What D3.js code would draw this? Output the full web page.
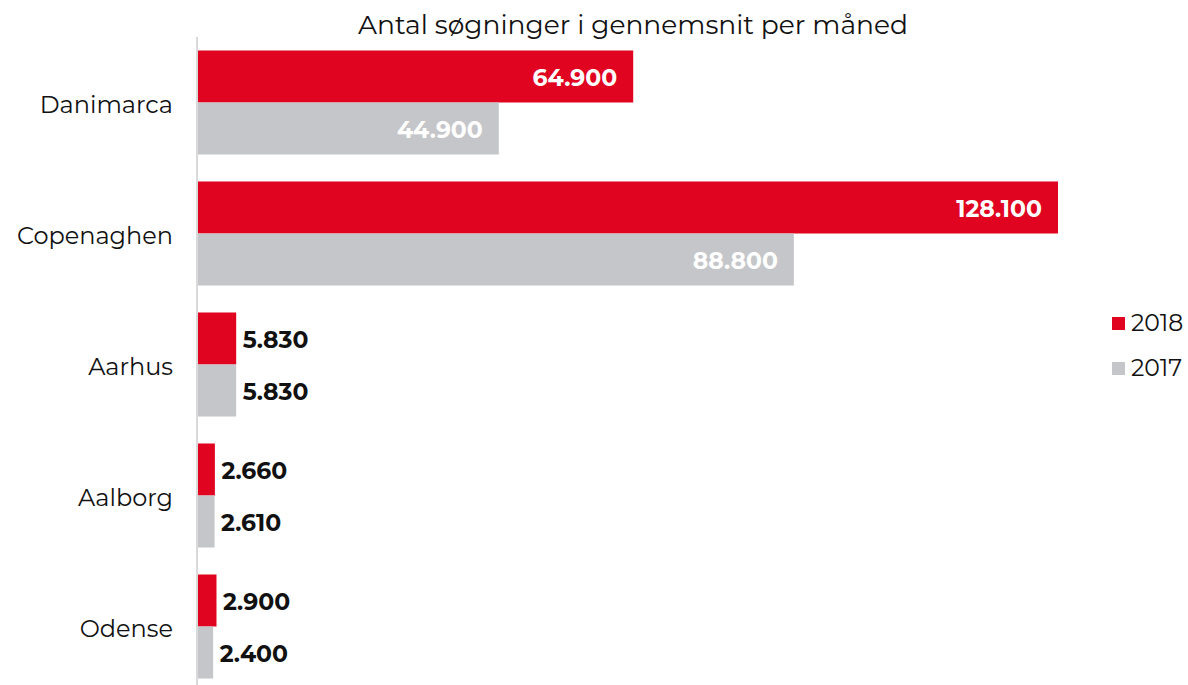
<!DOCTYPE html>
<html><head><meta charset="utf-8">
<script src="https://cdn.jsdelivr.net/npm/d3@7"></script>
<style>body{margin:0;background:#fff}svg{display:block}</style>
</head><body>
<svg id="c" width="1188" height="685"></svg>
<script>
const title = "Antal søgninger i gennemsnit per måned";
const categories = ["Danimarca", "Copenaghen", "Aarhus", "Aalborg", "Odense"];
const seriesNames = ["2018", "2017"];
const values2018 = [64900, 128100, 5830, 2660, 2900];
const values2017 = [44900, 88800, 5830, 2610, 2400];
const colors = ["#E00421", "#C5C6C9"];

const FONT = "Montserrat, 'DejaVu Sans', sans-serif";
const svg = d3.select("#c");
const series = [values2018, values2017];
const fmt = v => d3.format(",")(v).replace(/,/g, ".");

const x = d3.scaleLinear().domain([0, 128100]).range([197, 1058]);
const y = d3.scaleBand().domain(categories).range([37, 692]).paddingInner(0.206).paddingOuter(0.103);
const y1 = d3.scaleBand().domain(seriesNames).range([0, y.bandwidth()]);

svg.append("text").attr("x", 633).attr("y", 34).attr("text-anchor", "middle")
  .attr("font-family", FONT).attr("font-size", 26.5).attr("fill", "#111").text(title);

const g = svg.append("g");
categories.forEach((c, i) => {
  seriesNames.forEach((s, j) => {
    const v = series[j][i];
    const by = y(c) + y1(s);
    g.append("rect").attr("x", x(0)).attr("y", by).attr("width", x(v) - x(0)).attr("height", y1.bandwidth())
      .attr("fill", colors[j]);
    const inside = v > 20000;
    g.append("text")
      .attr("x", inside ? x(v) - 16 : Math.max(x(v) + 6.5, x(0) + 20))
      .attr("y", by + y1.bandwidth() / 2 + 1)
      .attr("dy", "0.36em")
      .attr("text-anchor", inside ? "end" : "start")
      .attr("font-family", FONT).attr("font-weight", "bold").attr("font-size", 23.5)
      .attr("fill", inside ? "#fff" : "#111")
      .text(fmt(v));
  });
});

const yAxis = d3.axisLeft(y).tickSize(0).tickPadding(24);
const ag = svg.append("g").attr("transform", `translate(${x(0)},0)`).call(yAxis);
ag.select(".domain").attr("stroke", "#d9d9d9").attr("stroke-width", 2).attr("d", `M0,37V692`);
ag.selectAll("text").attr("font-family", FONT).attr("font-size", 24).attr("fill", "#111").attr("dy", "0.42em");

const lg = svg.append("g");
seriesNames.forEach((s, j) => {
  const ly = 323 + j * 45;
  lg.append("rect").attr("x", 1112).attr("y", ly - 6).attr("width", 13).attr("height", 13).attr("fill", colors[j]);
  lg.append("text").attr("x", 1131).attr("y", ly).attr("dy", "0.36em")
    .attr("font-family", FONT).attr("font-size", 23.5).attr("fill", "#111").text(s);
});
</script>
</body></html>
